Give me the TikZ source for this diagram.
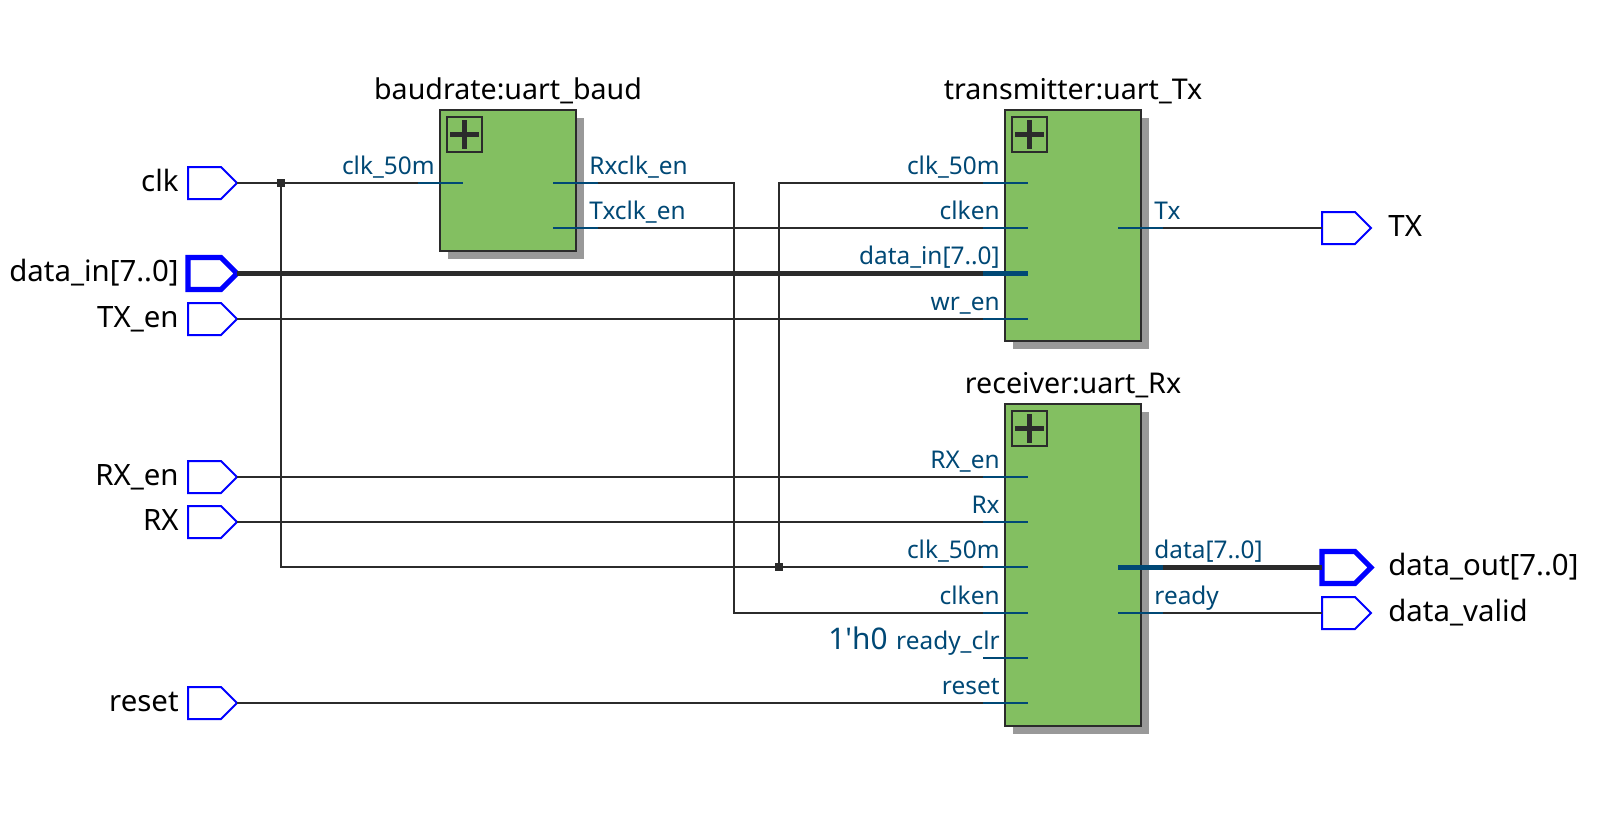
\documentclass[tikz,border=0pt]{standalone}
\usepackage{fontspec}
\setmainfont{Noto Sans}
\newfontfamily\plainfont{Noto Sans}
\usetikzlibrary{shapes.symbols}
\definecolor{wirec}{HTML}{2B2B2B}
\definecolor{pinc}{HTML}{004875}
\definecolor{blockc}{HTML}{83BF61}
\definecolor{shadc}{HTML}{999999}
\definecolor{portc}{HTML}{0000FF}
\tikzset{
  x=0.5pt,y=-0.5pt,
  port/.style={shape=signal,signal to=east,signal from=nowhere,signal pointer angle=90,draw=portc,line width=1pt,fill=white,minimum width=24.5pt,minimum height=16pt,inner sep=0pt,outer sep=0pt,anchor=east,miter limit=2},
  busport/.style={port,line width=2.6pt},
  wire/.style={draw=wirec,line width=1pt},
  bus/.style={draw=wirec,line width=2.6pt},
  stub/.style={draw=pinc,line width=1pt},
  busstub/.style={draw=pinc,line width=2.6pt},
  block/.style={draw=wirec,fill=blockc,line width=1.2pt,anchor=north west,inner sep=0pt,outer sep=0pt},
  shad/.style={fill=shadc,anchor=north west,inner sep=0pt,outer sep=0pt},
  plusbox/.style={draw=wirec,line width=1pt,anchor=north west,minimum width=17.5pt,minimum height=17.5pt,inner sep=0pt,outer sep=0pt},
  plusbar/.style={draw=wirec,line width=2.5pt},
  title/.style={font=\fontsize{14.3pt}{16pt}\selectfont,text=black,anchor=base,inner sep=0pt},
  portlab/.style={font=\fontsize{14.7pt}{16pt}\selectfont,text=black,inner sep=0pt},
  pinlab/.style={font=\fontsize{12.2pt}{14pt}\selectfont,text=pinc,inner sep=0pt},
  constlab/.style={font=\plainfont\fontsize{14.9pt}{17pt}\selectfont,text=pinc,anchor=base west,inner sep=0pt},
  junction/.style={fill=wirec,minimum size=4pt,inner sep=0pt,outer sep=0pt,shape=rectangle},
}
% #1 style, #2 id, #3 block left x, #4 y, #5 text : input pin, coordinate (#2) at its outer end
\newcommand{\inpin}[5][stub]{%
  \coordinate (#2) at (#3-22,#4);
  \draw[#1] (#2) -- (#3+23,#4);
  \node[pinlab,anchor=base east] (#2-lab) at (#3-5,#4-9) {#5};
}
% output pin: #3 block right x
\newcommand{\outpin}[5][stub]{%
  \coordinate (#2) at (#3+22,#4);
  \draw[#1] (#3-23,#4) -- (#2);
  \node[pinlab,anchor=base west] (#2-lab) at (#3+13,#4-9) {#5};
}
\newcommand{\plusmark}[3]{%
  \node[plusbox] (#1) at (#2,#3) {};
  \draw[plusbar] (#1.center) ++(-14.5,0) -- ++(29,0);
  \draw[plusbar] (#1.center) ++(0,-14.5) -- ++(0,29);
}
\begin{document}
\begin{tikzpicture}
\useasboundingbox (0,0) rectangle (1597,826);
% blocks
\node[shad,minimum width=68pt,minimum height=70.5pt] (baudS) at (448,118) {};
\node[shad,minimum width=68pt,minimum height=115.5pt] (txS) at (1013,118) {};
\node[shad,minimum width=68pt,minimum height=161pt] (rxS) at (1013,412) {};
\node[block,minimum width=68pt,minimum height=70.5pt] (baud) at (440,110) {};
\node[block,minimum width=68pt,minimum height=115.5pt] (tx) at (1005,110) {};
\node[block,minimum width=68pt,minimum height=161pt] (rx) at (1005,404) {};
\plusmark{baudP}{447}{117}
\plusmark{txP}{1012}{117}
\plusmark{rxP}{1012}{411}
\node[title] (baudT) at (508,99) {baudrate:uart\_baud};
\node[title] (txT) at (1073,99) {transmitter:uart\_Tx};
\node[title] (rxT) at (1073,393) {receiver:uart\_Rx};
% ports
\node[port] (clk) at (237,183) {};
\node[busport] (datain) at (237,273.5) {};
\node[port] (txen) at (237,319) {};
\node[port] (rxen) at (237,477) {};
\node[port] (rxi) at (237,522) {};
\node[port] (reset) at (237,703) {};
\node[port] (txo) at (1371,228) {};
\node[busport] (dataout) at (1371,567.5) {};
\node[port] (valid) at (1371,613) {};
\node[portlab,anchor=base east] (clkL) at (179,191) {clk};
\node[portlab,anchor=base east] (datainL) at (179,281) {data\_in[7..0]};
\node[portlab,anchor=base east] (txenL) at (179,327) {TX\_en};
\node[portlab,anchor=base east] (rxenL) at (179,485) {RX\_en};
\node[portlab,anchor=base east] (rxiL) at (179,530) {RX};
\node[portlab,anchor=base east] (resetL) at (179,711) {reset};
\node[portlab,anchor=base west] (txoL) at (1388,236) {TX};
\node[portlab,anchor=base west] (dataoutL) at (1388,575) {data\_out[7..0]};
\node[portlab,anchor=base west] (validL) at (1388,621) {data\_valid};
% connector ends
\coordinate (bclk) at (418,183);
\coordinate (brx) at (597,183);
\coordinate (btx) at (597,228);
\coordinate (tclk) at (983,183);
\coordinate (tclken) at (983,228);
\coordinate (tdata) at (983,273.5);
\coordinate (twr) at (983,319);
\coordinate (ttx) at (1163,228);
\coordinate (rrxen) at (983,477);
\coordinate (rrx) at (983,522);
\coordinate (rclk) at (983,567);
\coordinate (rclken) at (983,613);
\coordinate (rreset) at (983,703);
\coordinate (rdata) at (1163,567.5);
\coordinate (rready) at (1163,613);
% wires
\node[junction] (j1) at (281,183) {};
\node[junction] (j2) at (779,567) {};
\draw[wire] (clk.east) -- (j1) -- (bclk);
\draw[wire] (j1) -- (j1 |- rclk) -- (j2) -- (rclk);
\draw[wire] (j2) -- (j2 |- tclk) -- (tclk);
\draw[wire] (brx) -- (734,183) -- (734,613) -- (rclken);
\draw[wire] (btx) -- (tclken);
\draw[wire] (txen.east) -- (twr);
\draw[wire] (rxen.east) -- (rrxen);
\draw[wire] (rxi.east) -- (rrx);
\draw[wire] (reset.east) -- (rreset);
\draw[wire] (ttx) -- (txo.west);
\draw[wire] (rready) -- (valid.west);
\draw[bus] (datain.east) -- (tdata);
\draw[bus] (rdata) -- (dataout.west);
% pins
\inpin{bclkP}{440}{183}{clk\_50m}
\outpin{brxP}{576}{183}{Rxclk\_en}
\outpin{btxP}{576}{228}{Txclk\_en}
\inpin{tclkP}{1005}{183}{clk\_50m}
\inpin{tclkenP}{1005}{228}{clken}
\inpin[busstub]{tdataP}{1005}{273.5}{data\_in[7..0]}
\inpin{twrP}{1005}{319}{wr\_en}
\outpin{ttxP}{1141}{228}{Tx}
\inpin{rrxenP}{1005}{477}{RX\_en}
\inpin{rrxP}{1005}{522}{Rx}
\inpin{rclkP}{1005}{567}{clk\_50m}
\inpin{rclkenP}{1005}{613}{clken}
\inpin{rclrP}{1005}{658}{ready\_clr}
\inpin{rresetP}{1005}{703}{reset}
\outpin[busstub]{rdataP}{1141}{567.5}{data[7..0]}
\outpin{rreadyP}{1141}{613}{ready}
\node[constlab] (const) at (828,649) {1'h0};
\end{tikzpicture}
\end{document}
